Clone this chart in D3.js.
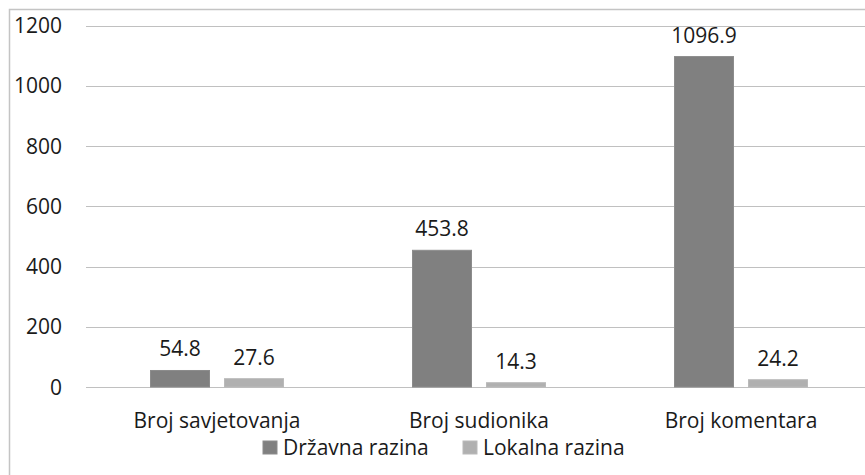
<!DOCTYPE html>
<html>
<head>
<meta charset="utf-8">
<script src="https://cdn.jsdelivr.net/npm/d3@7"></script>
<style>
  body { margin: 0; background: #fff; }
  svg text { font-family: "Open Sans", sans-serif; fill: #1a1a1a; }
</style>
</head>
<body>
<div id="chart"></div>
<script>
const categories = ['Broj savjetovanja', 'Broj sudionika', 'Broj komentara'];
const seriesNames = ['Državna razina', 'Lokalna razina'];
const drzavna = [54.8, 453.8, 1096.9];
const lokalna = [27.6, 14.3, 24.2];
const yTicks = [0, 200, 400, 600, 800, 1000, 1200];

const width = 865, height = 475;
const colors = ['#808080', '#b0b0b0'];
const strokes = ['#8c8c8c', '#bababa'];
const fontSize = '21px';

const svg = d3.select('#chart').append('svg')
  .attr('width', width)
  .attr('height', height);

// chart frame, cut off at right/bottom like the original
svg.append('rect')
  .attr('x', 9.5).attr('y', 9.5)
  .attr('width', 900).attr('height', 500)
  .attr('fill', 'none')
  .attr('stroke', '#c4c4c4')
  .attr('stroke-width', 1.5);

const x = d3.scaleBand()
  .domain(categories)
  .range([86, 872]);

const y = d3.scaleLinear()
  .domain([0, 1200])
  .range([387, 25.5]);

// gridlines
svg.append('g').classed('grid', true)
  .selectAll('line')
  .data(yTicks)
  .enter()
  .append('line')
  .attr('x1', 86)
  .attr('x2', width)
  .attr('y1', d => Math.round(y(d)) + 0.5)
  .attr('y2', d => Math.round(y(d)) + 0.5)
  .style('stroke', '#c0c0c0')
  .style('stroke-width', 1);

// y axis labels
svg.append('g').classed('y-labels', true)
  .selectAll('text')
  .data(yTicks)
  .enter()
  .append('text')
  .attr('x', 62)
  .attr('y', d => y(d) + 7.5)
  .attr('text-anchor', 'end')
  .style('font-size', fontSize)
  .text(d => d);

const groups = categories.map((c, i) => ({cat: c, values: [drzavna[i], lokalna[i]]}));
const barW = 59, gap = 15;
const xs = d3.scaleBand()
  .domain([0, 1])
  .range([0, 2 * barW + gap])
  .paddingInner(gap / (barW + gap));

const g = svg.append('g').classed('bars', true)
  .selectAll('g')
  .data(groups)
  .enter()
  .append('g')
  .attr('transform', d => `translate(${x(d.cat) + (x.bandwidth() - (2 * barW + gap)) / 2}, 0)`);

g.selectAll('rect')
  .data(d => d.values.map((v, k) => ({v, k})))
  .enter()
  .append('rect')
  .attr('x', d => xs(d.k))
  .attr('y', d => y(d.v))
  .attr('width', xs.bandwidth())
  .attr('height', d => y(0) - y(d.v))
  .style('fill', d => colors[d.k])
  .style('stroke', d => strokes[d.k])
  .style('stroke-width', 1);

g.selectAll('text')
  .data(d => d.values.map((v, k) => ({v, k})))
  .enter()
  .append('text')
  .attr('x', d => xs(d.k) + xs.bandwidth() / 2)
  .attr('y', d => y(d.v) - 14)
  .attr('text-anchor', 'middle')
  .style('font-size', fontSize)
  .text(d => d.v.toFixed(1));

// category labels
svg.append('g').classed('x-labels', true)
  .selectAll('text')
  .data(categories)
  .enter()
  .append('text')
  .attr('x', d => x(d) + x.bandwidth() / 2)
  .attr('y', 428)
  .attr('text-anchor', 'middle')
  .style('font-size', fontSize)
  .text(d => d);

// legend
const legendX = [263, 463];
const legend = svg.append('g').classed('legend', true)
  .selectAll('g')
  .data(seriesNames)
  .enter()
  .append('g')
  .attr('transform', (d, i) => `translate(${legendX[i]}, 441)`);

legend.append('rect')
  .attr('width', 14)
  .attr('height', 13)
  .style('fill', (d, i) => colors[i])
  .style('stroke', (d, i) => strokes[i]);

legend.append('text')
  .attr('x', 20)
  .attr('y', 14)
  .style('font-size', fontSize)
  .text(d => d);
</script>
</body>
</html>
